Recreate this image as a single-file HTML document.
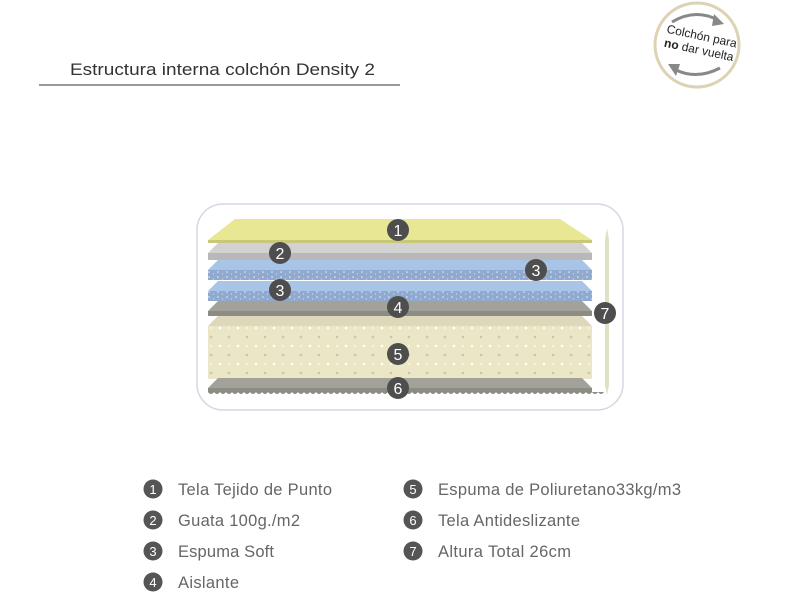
<!DOCTYPE html>
<html><head><meta charset="utf-8"><style>
body{margin:0;width:800px;height:600px;background:#fff;font-family:"Liberation Sans","DejaVu Sans",sans-serif;overflow:hidden}
</style></head><body>
<svg width="800" height="600" viewBox="0 0 800 600" xmlns="http://www.w3.org/2000/svg" font-family="Liberation Sans, DejaVu Sans, sans-serif">
<defs>
<pattern id="bd" width="9" height="5" patternUnits="userSpaceOnUse"><rect width="9" height="5" fill="#90a9cf"/><circle cx="2" cy="2" r="0.8" fill="#e8eef8"/><circle cx="6.5" cy="4" r="0.6" fill="#d0dcee"/></pattern>
<pattern id="yd" width="18" height="18" patternUnits="userSpaceOnUse"><rect width="18" height="18" fill="#ebe6c6"/><circle cx="4" cy="4" r="1.3" fill="#fff"/><circle cx="13" cy="13" r="1.3" fill="#c8c4b4"/><circle cx="13" cy="4" r="1.1" fill="#f8f6ee"/></pattern>
</defs>
<text x="70" y="75" font-size="17" fill="#333" textLength="305" lengthAdjust="spacingAndGlyphs">Estructura interna colchón Density 2</text>
<rect x="39" y="84" width="361" height="2" fill="#999"/>
<circle cx="697" cy="45" r="42" fill="none" stroke="#ddd3b4" stroke-width="3"/>
<path d="M672 22 Q695 8 718 20" fill="none" stroke="#888" stroke-width="3"/><path d="M714 14 L724 24 L712 26 Z" fill="#888"/>
<path d="M720 68 Q697 80 676 70" fill="none" stroke="#888" stroke-width="3"/><path d="M680 64 L668 64 L676 76 Z" fill="#888"/>
<g transform="rotate(12 700 45)" font-size="12" fill="#222" text-anchor="middle"><text x="700" y="40">Colchón para</text><text x="700" y="54"><tspan font-weight="bold">no</tspan> dar vuelta</text></g>
<rect x="197" y="204" width="426" height="206" rx="26" fill="none" stroke="#d6d6e4" stroke-width="1.5"/>
<polygon points="235,219 560,219 592,240 208,240" fill="#e8e894"/><rect x="208" y="240" width="384" height="3" fill="#c8c878"/>
<polygon points="218,243 582,243 592,253 208,253" fill="#d2d2d2"/><rect x="208" y="253" width="384" height="7" fill="#b8b8b8"/>
<polygon points="218,260 582,260 592,270 208,270" fill="#a8c4e6"/><rect x="208" y="270" width="384" height="10" fill="url(#bd)"/>
<polygon points="218,281 582,281 592,291 208,291" fill="#a8c4e6"/><rect x="208" y="291" width="384" height="10" fill="url(#bd)"/>
<polygon points="218,301 582,301 592,311 208,311" fill="#a2a29a"/><rect x="208" y="311" width="384" height="5" fill="#8c8c84"/>
<polygon points="218,316 582,316 592,326 208,326" fill="#ddd8ba"/><rect x="208" y="326" width="384" height="53" fill="url(#yd)"/>
<polygon points="218,378 582,378 592,388 208,388" fill="#a2a29a"/><rect x="208" y="388" width="384" height="4" fill="#8c8c84"/>
<path d="M208 392 q3 4 6 0 q3 4 6 0 q3 4 6 0 q3 4 6 0 q3 4 6 0 q3 4 6 0 q3 4 6 0 q3 4 6 0 q3 4 6 0 q3 4 6 0 q3 4 6 0 q3 4 6 0 q3 4 6 0 q3 4 6 0 q3 4 6 0 q3 4 6 0 q3 4 6 0 q3 4 6 0 q3 4 6 0 q3 4 6 0 q3 4 6 0 q3 4 6 0 q3 4 6 0 q3 4 6 0 q3 4 6 0 q3 4 6 0 q3 4 6 0 q3 4 6 0 q3 4 6 0 q3 4 6 0 q3 4 6 0 q3 4 6 0 q3 4 6 0 q3 4 6 0 q3 4 6 0 q3 4 6 0 q3 4 6 0 q3 4 6 0 q3 4 6 0 q3 4 6 0 q3 4 6 0 q3 4 6 0 q3 4 6 0 q3 4 6 0 q3 4 6 0 q3 4 6 0 q3 4 6 0 q3 4 6 0 q3 4 6 0 q3 4 6 0 q3 4 6 0 q3 4 6 0 q3 4 6 0 q3 4 6 0 q3 4 6 0 q3 4 6 0 q3 4 6 0 q3 4 6 0 q3 4 6 0 q3 4 6 0 q3 4 6 0 q3 4 6 0 q3 4 6 0 q3 4 6 0 q3 4 6 0 q3 4 6 0 Z" fill="#8c8c84"/>
<polygon points="607,228 609,240 609,385 607,395 605,385 605,240" fill="#e0e0c4"/>
<g fill="#4e4e4e"><circle cx="398" cy="230" r="11"/><circle cx="280" cy="253" r="11"/><circle cx="536" cy="270" r="11"/><circle cx="280" cy="290" r="11"/><circle cx="398" cy="307" r="11"/><circle cx="398" cy="354" r="11"/><circle cx="398" cy="388" r="11"/><circle cx="605" cy="313" r="11"/></g>
<g fill="#fff" font-size="16" text-anchor="middle"><text x="398" y="236">1</text><text x="280" y="259">2</text><text x="536" y="276">3</text><text x="280" y="296">3</text><text x="398" y="313">4</text><text x="398" y="360">5</text><text x="398" y="394">6</text><text x="605" y="319">7</text></g>
<g fill="#555"><circle cx="153" cy="489" r="9.5"/><circle cx="153" cy="520" r="9.5"/><circle cx="153" cy="551" r="9.5"/><circle cx="153" cy="582" r="9.5"/><circle cx="413" cy="489" r="9.5"/><circle cx="413" cy="520" r="9.5"/><circle cx="413" cy="551" r="9.5"/></g>
<g fill="#fff" font-size="13" text-anchor="middle"><text x="153" y="494">1</text><text x="153" y="525">2</text><text x="153" y="556">3</text><text x="153" y="587">4</text><text x="413" y="494">5</text><text x="413" y="525">6</text><text x="413" y="556">7</text></g>
<g fill="#666" font-size="16.5" lengthAdjust="spacingAndGlyphs"><text x="178" y="495" textLength="154">Tela Tejido de Punto</text><text x="178" y="526" textLength="122">Guata 100g./m2</text><text x="178" y="557" textLength="96">Espuma Soft</text><text x="178" y="588" textLength="61">Aislante</text><text x="438" y="495" textLength="243">Espuma de Poliuretano33kg/m3</text><text x="438" y="526" textLength="142">Tela Antideslizante</text><text x="438" y="557" textLength="133">Altura Total 26cm</text></g>
</svg>
</body></html>
